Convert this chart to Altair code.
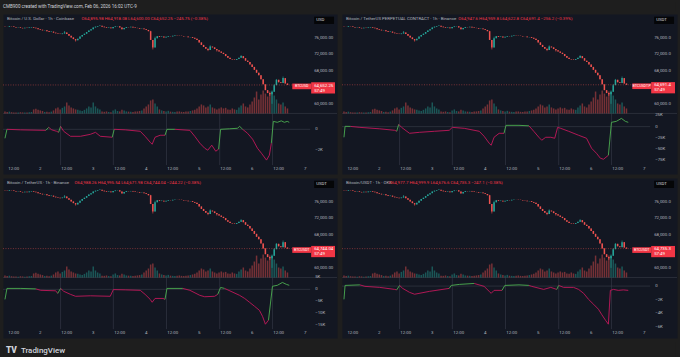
import altair as alt
import pandas as pd

# ---------------- data ----------------
HEADER = "CMB900 created with TradingView.com, Feb 06, 2026 16:02 UTC-9"

first_open = 78750
close = [
    78700, 78650, 78800, 78750, 78600, 78500, 78550, 78400, 78300, 78450,
    78350, 78500, 78600, 78450, 78300, 78100, 77950, 77800, 77850, 77600,
    77400, 77500, 77250, 77100, 77000, 76900, 77050, 77300, 76900, 76500,
    76100, 75700, 75400, 75800, 76300, 76700, 77000, 77400, 77800, 78100,
    78500, 78700, 78850, 78900, 78700, 78550, 78400, 78500, 78300, 78600,
    78750, 78800, 78500, 78050, 78400, 78600, 78550, 78650, 78500, 78400,
    78350, 78200, 78250, 78100, 77900, 77600, 75500, 73700, 75900, 76400,
    76200, 76300, 76100, 76250, 76400, 76350, 76500, 76600, 76550, 76500,
    76450, 76350, 76300, 76150, 76200, 76000, 75800, 75500, 74900, 74300,
    73800, 73400, 73100, 73900, 73700, 73300, 73000, 72700, 72400, 72100,
    71600, 71200, 70900, 70800, 70700, 70900, 71200, 71600, 71100, 70500,
    70200, 69600, 69000, 68300, 67600, 67000, 66000, 64800, 63400, 62700,
    62400, 63000, 64600, 65900, 65300, 65100, 66300, 65000, 64652,
]
wick_high = {27: 77650, 43: 79050, 66: 77700, 68: 76300, 93: 74200, 107: 71850,
             122: 64900, 123: 66100, 126: 66700}
wick_low = {32: 75100, 67: 73200, 92: 72800, 96: 72700, 120: 62000, 121: 60100}

volume = [
    1000, 700, 900, 600, 500,
    500, 400, 600, 500, 400, 500, 600, 700,
    2000, 2400, 1800, 1500, 1200,
    700, 800, 600, 900,
    1500, 2500, 3000, 2000, 2800, 3500, 5500, 4000, 3000,
    2500, 2000, 1800, 1500, 1200,
    1800, 2500, 3500, 3000, 5500, 3500, 2500, 2000,
    900, 800, 1000, 700, 600,
    1500, 2000, 1200, 1000, 1800, 1500, 1000, 900, 800, 700, 900, 1000, 1200, 1500,
    2500, 3500, 4500, 6500, 7000, 5000, 3500,
    2000, 1500, 1200, 1000, 1300, 900, 800, 700, 900, 1000, 800, 700, 900, 1000, 1200, 1500, 1800,
    2500, 3500, 4500, 4000, 3000, 3500, 4500, 3000, 2500,
    2000, 2500, 3000, 2500, 2800, 2000, 1800, 2500, 2000, 1800,
    3000, 4000, 5000, 3500, 3000,
    4500, 6000, 8000, 11000, 7000, 9500, 11500, 10000, 8500, 11000, 11500,
    9000, 7000, 5000, 4500, 5500, 3500, 2500,
]

time_ticks = [4, 16, 28, 40, 52, 64, 76, 88, 100, 112, 124, 136]
time_labels = ["12:00", "2", "12:00", "3", "12:00", "4", "12:00", "5", "12:00", "6", "12:00", "7"]
sessions = [25.2, 49.1, 73.2, 97.3, 121.2]

price_ticks = [76000, 72000, 68000, 60000]

# indicator (cumulative delta, in thousands) per panel
tl_ind_i = [0, 0.9, 7, 18.5, 19.8, 21.2, 23.4, 24.3, 25.2, 26.6, 29.7, 34.2, 38.7, 41, 43.2, 48.6,
            49.5, 54.5, 61.3, 63.5, 65.8, 66.7, 68, 70.3, 72.5, 73.4, 77, 83.8, 86, 88.3, 90.5,
            91.9, 93.7, 95.5, 96.8, 97.7, 101.8, 105.4, 106.3, 107.7, 109.9, 112.2, 114.4, 116.2,
            118.5, 119.8, 120.7, 121.6, 123.4, 125.2, 126.6, 127.9, 128.8]
tl_ind_v = [-0.86, 0.0, -0.05, -0.1, 0.19, -0.05, -0.19, -0.29, 0.29, -0.19, -0.67, -0.67, -0.48,
            -0.29, -0.67, -0.76, 0.0, -0.05, -0.19, -0.67, -1.24, -1.43, -0.76, -0.57, -0.57, 0.0,
            0.0, -0.1, -0.67, -1.33, -1.81, -2.0, -1.52, -2.1, -1.9, 0.0, 0.05, 0.1, 0.29, 0.0,
            -0.38, -0.95, -1.81, -2.29, -2.95, -2.48, -1.33, 0.76, 0.67, 0.81, 0.67, 0.76, 0.67]

tr_ind_i = [0, 0.5, 3, 7.2, 16.2, 23, 23.9, 24.8, 26.1, 29.7, 34.2, 41, 47.7, 49.1, 54.5, 61.3,
            63.5, 65.8, 66.7, 68, 70.3, 72.5, 73.4, 79.3, 83.8, 86, 88.3, 89.6, 91.4, 93.7, 95.5,
            96.8, 98.2, 101.8, 106.3, 109.9, 112.2, 114.4, 116.2, 117.6, 119.8, 121.2, 123.4,
            125.7, 127.5, 128.8]
tr_ind_v = [-23.8, 0.7, 0.5, -1.6, -4.9, -8.2, -10.4, 5.1, -1.6, -14.9, -12.7, -10.4, -8.2, -1.6,
            -3.8, -10.4, -21.6, -37.1, -41.6, -23.8, -14.9, -14.9, 2.9, 2.9, 1.8, -10.4, -23.8,
            -30.4, -23.8, -23.8, -26, -1.6, -3.8, -10.4, -19.3, -26, -48.4, -59.6, -70.7, -72.9,
            -64, 9.6, 11.8, 18.4, 11.8, 9.6]

bl_ind_i = [0, 0.9, 7.2, 14, 16.2, 23, 23.9, 25.2, 26.6, 29.7, 32, 38.7, 47.7, 49.1, 54.5, 61.3,
            63.5, 65.8, 66.7, 68, 71.6, 72.5, 73.4, 80.6, 83.8, 88.3, 90.5, 95, 96.4, 97.7, 99.5,
            106.3, 108.6, 110.8, 113.1, 115.3, 116.7, 118, 119.4, 121.2, 123.4, 125.7, 127.5, 128.8]
bl_ind_v = [-4.2, 0.4, 0.4, 0.2, -0.4, -0.6, -1.7, 0.4, -0.8, -2.1, -2.9, -2.7, -2.9, -0.1, -0.2,
            -0.4, -2.1, -4.2, -5.4, -3.8, -3.8, -4.2, 0.4, 0.4, -0.4, -2.5, -3.1, -2.9, -2.1, 0.8,
            0.4, -2.5, -3.8, -5.4, -7.1, -8.8, -11.3, -14.6, -12.9, 1.3, 1.7, 2.9, 2.1, 1.7]

br_ind_i = [0, 0.5, 7.2, 9.5, 16.2, 23, 23.9, 25.2, 26.6, 29.7, 32, 38.7, 47.7, 48.6, 52.3, 59,
            63.5, 65.8, 66.7, 68, 71.6, 72.9, 79.3, 83.8, 85.1, 90.5, 93.7, 96.4, 97.3, 99.5, 104,
            106.3, 108.6, 110.8, 113.1, 115.3, 116.7, 118.5, 119.8, 120.7, 122.1, 124.3, 126.6, 128.8]
br_ind_v = [-1.95, 0.1, 0.18, -0.04, -0.19, -0.49, -0.56, 0.1, -0.34, -0.92, -1.2, -0.78, -0.34,
            0.1, 0.25, 0.39, -0.04, -0.78, -1.07, -0.63, -0.63, 0.1, 0.18, 0.1, -0.04, -0.49,
            -0.19, -0.49, 0.1, -0.19, -0.19, -0.49, -1.07, -1.95, -2.68, -3.41, -4.15, -5.03,
            -5.61, -0.63, -0.49, -0.63, -0.56, -0.63]

panels = [
    dict(name="Bitcoin / U.S. Dollar · 1h · Coinbase",
         ohlc="O64,895.98 H64,918.08 L64,600.00 C64,652.25 −245.75 (−0.38%)", ohlc_x=79,
         unit="USD", symbol="BTCUSD", last=64652.25, last_txt="64,652.25", dec=2,
         ind_i=tl_ind_i, ind_v=tl_ind_v, ind_dom=[-4.286, 11.048],
         ind_ticks=[0, -2], ind_lab=["0", "−2K"]),
    dict(name="Bitcoin / TetherUS PERPETUAL CONTRACT · 1h · Binance",
         ohlc="O64,947.6 H64,959.8 L64,622.8 C64,691.4 −256.2 (−0.39%)", ohlc_x=117,
         unit="USDT", symbol="BTCUSDT.P", last=64691.4, last_txt="64,691.4", dec=1,
         ind_i=tr_ind_i, ind_v=tr_ind_v, ind_dom=[-106.0, 251.8],
         ind_ticks=[25, 0, -25, -50, -75], ind_lab=["25K", "0", "−25K", "−50K", "−75K"]),
    dict(name="Bitcoin / TetherUS · 1h · Binance",
         ohlc="O64,988.26 H64,995.54 L64,671.98 C64,744.04 −244.22 (−0.38%)", ohlc_x=72,
         unit="USDT", symbol="BTCUSDT", last=64744.04, last_txt="64,744.04", dec=2,
         ind_i=bl_ind_i, ind_v=bl_ind_v, ind_dom=[-20.42, 46.67],
         ind_ticks=[5, 0, -5, -10, -15], ind_lab=["5K", "0", "−5K", "−10K", "−15K"]),
    dict(name="Bitcoin/USDT · 1h · OKX",
         ohlc="O64,977.7 H64,999.9 L64,676.6 C64,735.3 −247.1 (−0.38%)", ohlc_x=47,
         unit="USDT", symbol="BTCUSDT", last=64735.3, last_txt="64,735.3", dec=1,
         ind_i=br_ind_i, ind_v=br_ind_v, ind_dom=[-7.657, 15.915],
         ind_ticks=[0, -2, -4, -6], ind_lab=["0", "−2K", "−4K", "−6K"]),
]

# ---------------- style ----------------
FONT = "Roboto"
FS = 4.4
BG_OUT = "#1e1e1e"
BG_PANEL = "#131722"
UP = "#26a69a"
DOWN = "#ef5350"
IND_UP = "#4caf50"
IND_DN = "#c2185b"
TXT = "#b2b5be"
LINE = "#2a2e39"
H = 161
X0 = -0.9
PX_PER_H = 2.22
PRICE_DOMAIN = [43188.5, 81748]
VOL_DOMAIN = [-30500, 50000]


def build_panel(p, width):
    xs = alt.Scale(domain=[X0, X0 + width / PX_PER_H], nice=False, zero=False)
    ps = alt.Scale(domain=PRICE_DOMAIN, nice=False, zero=False)
    vs = alt.Scale(domain=VOL_DOMAIN, nice=False, zero=False)
    ins = alt.Scale(domain=p["ind_dom"], nice=False, zero=False)

    c = close[:-1] + [p["last"]]
    o = [first_open] + c[:-1]
    rows = []
    for k in range(len(c)):
        hi = max(o[k], c[k], wick_high.get(k, 0))
        lo = min(o[k], c[k], wick_low.get(k, 10 ** 9))
        rows.append(dict(i=k, o=o[k], c=c[k], h=hi, l=lo, v=volume[k],
                         col=UP if c[k] >= o[k] else DOWN))
    cdf = pd.DataFrame(rows)

    ii, vv = p["ind_i"], p["ind_v"]
    seg = pd.DataFrame([dict(i0=ii[k], v0=vv[k], i1=ii[k + 1], v1=vv[k + 1],
                             col=IND_UP if vv[k + 1] >= 0 else IND_DN)
                        for k in range(len(ii) - 1)])

    X = alt.X("i:Q", scale=xs, axis=None)
    col = alt.Color("col:N", scale=None)
    one = pd.DataFrame({"d": [0]})
    lbl_x = width - 23

    layers = []
    layers.append(alt.Chart(one).mark_rule(color=LINE, strokeWidth=1).encode(
        y=alt.value(100), x=alt.value(0), x2=alt.value(width)))
    layers.append(alt.Chart(pd.DataFrame({"s": sessions})).mark_rule(
        color="#2f3340", strokeWidth=0.8).encode(
        x=alt.X("s:Q", scale=xs, axis=None), y=alt.value(100), y2=alt.value(152)))
    layers.append(alt.Chart(one).mark_rule(color="#3a3e4a", strokeWidth=0.6).encode(
        y=alt.Y(datum=0, type="quantitative", scale=ins, axis=None),
        x=alt.value(0), x2=alt.value(lbl_x - 4)))
    layers.append(alt.Chart(cdf).mark_rule(strokeWidth=1.5, opacity=0.45).encode(
        x=X, y=alt.Y("v:Q", scale=vs, axis=None), y2=alt.Y2(datum=0), color=col))
    layers.append(alt.Chart(cdf).mark_rule(strokeWidth=0.6).encode(
        x=X, y=alt.Y("l:Q", scale=ps, axis=None), y2="h:Q", color=col))
    layers.append(alt.Chart(cdf).mark_rule(strokeWidth=1.5).encode(
        x=X, y=alt.Y("o:Q", scale=ps, axis=None), y2="c:Q", color=col))
    layers.append(alt.Chart(seg).mark_rule(strokeWidth=0.9).encode(
        x=alt.X("i0:Q", scale=xs, axis=None), x2="i1:Q",
        y=alt.Y("v0:Q", scale=ins, axis=None), y2="v1:Q", color=col))
    layers.append(alt.Chart(one).mark_rule(color=DOWN, strokeWidth=0.6, strokeDash=[1, 1.5],
                                           opacity=0.8).encode(
        y=alt.Y(datum=p["last"], type="quantitative", scale=ps, axis=None),
        x=alt.value(0), x2=alt.value(lbl_x - 22)))
    fmt = "{:,.%df}" % p["dec"]
    pl = pd.DataFrame({"p": price_ticks, "t": [fmt.format(v) for v in price_ticks]})
    layers.append(alt.Chart(pl).mark_text(align="left", baseline="middle", font=FONT,
                                          fontSize=FS, color=TXT).encode(
        y=alt.Y("p:Q", scale=ps, axis=None), x=alt.value(lbl_x), text="t:N"))
    il = pd.DataFrame({"v": p["ind_ticks"], "t": p["ind_lab"]})
    layers.append(alt.Chart(il).mark_text(align="left", baseline="middle", font=FONT,
                                          fontSize=FS, color=TXT).encode(
        y=alt.Y("v:Q", scale=ins, axis=None), x=alt.value(lbl_x + 1), text="t:N"))
    tl = pd.DataFrame({"i": time_ticks, "t": time_labels})
    layers.append(alt.Chart(tl).mark_text(align="center", baseline="middle", font=FONT,
                                          fontSize=FS, color=TXT).encode(
        x=X, y=alt.value(156), text="t:N"))
    Yl = alt.Y(datum=p["last"], type="quantitative", scale=ps, axis=None)
    layers.append(alt.Chart(one).mark_rect(color="#f23645", yOffset=-1.4, y2Offset=4.3).encode(
        y=Yl, y2=alt.Y2(datum=p["last"]), x=alt.value(lbl_x - 22), x2=alt.value(lbl_x - 3)))
    layers.append(alt.Chart(one).mark_rect(color="#f23645", yOffset=-2.7, y2Offset=8.6).encode(
        y=Yl, y2=alt.Y2(datum=p["last"]), x=alt.value(lbl_x - 3), x2=alt.value(width - 2)))
    layers.append(alt.Chart(pd.DataFrame({"t": [p["symbol"]]})).mark_text(
        align="center", baseline="middle", font=FONT, fontSize=3.6, color="white", dy=1.5).encode(
        y=Yl, x=alt.value(lbl_x - 12.5), text="t:N"))
    layers.append(alt.Chart(pd.DataFrame({"t": [p["last_txt"]]})).mark_text(
        align="left", baseline="middle", font=FONT, fontSize=FS, color="white", dy=0.6).encode(
        y=Yl, x=alt.value(lbl_x), text="t:N"))
    layers.append(alt.Chart(pd.DataFrame({"t": ["57:49"]})).mark_text(
        align="left", baseline="middle", font=FONT, fontSize=FS, color="white", dy=5.6).encode(
        y=Yl, x=alt.value(lbl_x), text="t:N"))
    layers.append(alt.Chart(one).mark_rect(color="#050608").encode(
        x=alt.value(lbl_x), x2=alt.value(width - 3), y=alt.value(2.7), y2=alt.value(10)))
    layers.append(alt.Chart(pd.DataFrame({"t": [p["unit"]]})).mark_text(
        align="left", baseline="middle", font=FONT, fontSize=FS, color="#d1d4dc").encode(
        x=alt.value(lbl_x + 2), y=alt.value(6.4), text="t:N"))
    layers.append(alt.Chart(pd.DataFrame({"t": [p["name"]]})).mark_text(
        align="left", baseline="middle", font=FONT, fontSize=FS, color=TXT).encode(
        x=alt.value(4), y=alt.value(5), text="t:N"))
    layers.append(alt.Chart(pd.DataFrame({"t": [p["ohlc"]]})).mark_text(
        align="left", baseline="middle", font=FONT, fontSize=FS, color="#f23645").encode(
        x=alt.value(p["ohlc_x"]), y=alt.value(5), text="t:N"))

    return alt.layer(*layers).resolve_scale(y="independent").properties(width=width, height=H)


tlp = build_panel(panels[0], 336)
trp = build_panel(panels[1], 337)
blp = build_panel(panels[2], 336)
brp = build_panel(panels[3], 337)

plain = alt.ViewBackground(fill=BG_OUT, stroke="transparent")
header = alt.Chart(pd.DataFrame({"t": [HEADER]})).mark_text(
    align="left", baseline="middle", font=FONT, fontSize=4.6, color="#d1d4dc").encode(
    x=alt.value(0), y=alt.value(5), text="t:N").properties(width=676, height=8, view=plain)

footer_layers = [
    alt.Chart(pd.DataFrame({"t": ["TV"]})).mark_text(
        align="left", baseline="middle", font=FONT, fontSize=8.5, fontWeight=900,
        color="#d1d4dc").encode(x=alt.value(3), y=alt.value(8.5), text="t:N"),
    alt.Chart(pd.DataFrame({"t": ["TradingView"]})).mark_text(
        align="left", baseline="middle", font=FONT, fontSize=8, fontWeight=500,
        color="#d1d4dc").encode(x=alt.value(18), y=alt.value(8.5), text="t:N"),
]
footer = alt.layer(*footer_layers).properties(width=676, height=21, view=plain)

row1 = alt.hconcat(tlp, trp, spacing=3)
row2 = alt.hconcat(blp, brp, spacing=3)
chart = alt.vconcat(header, row1, row2, footer, spacing=2).properties(
    background=BG_OUT, padding={"left": 2, "right": 2, "top": 0, "bottom": 0}
).configure_view(fill=BG_PANEL, stroke="transparent")

chart.save("out.html", embed_options={"renderer": "svg", "actions": False})
